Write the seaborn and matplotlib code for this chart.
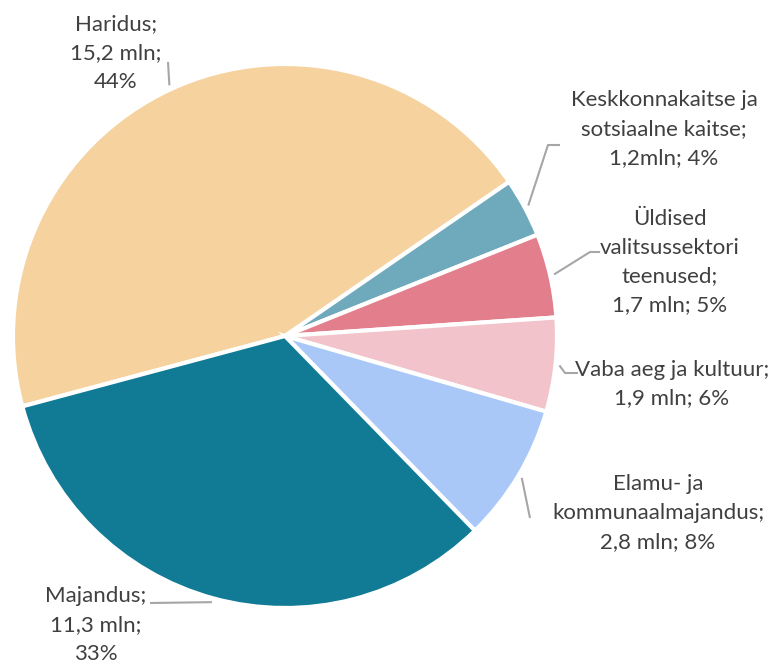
import numpy as np
import matplotlib.pyplot as plt
import seaborn as sns

# data
categories = ["Haridus", "Keskkonnakaitse ja\nsotsiaalne kaitse", "Üldised\nvalitsussektori\nteenused",
              "Vaba aeg ja kultuur", "Elamu- ja\nkommunaalmajandus", "Majandus"]
values = [15.2, 1.2, 1.7, 1.9, 2.8, 11.3]
value_labels = ["15,2 mln", "1,2mln", "1,7 mln", "1,9 mln", "2,8 mln", "11,3 mln"]
pct_labels = ["44%", "4%", "5%", "6%", "8%", "33%"]
colors = ["#F5D29E", "#6FA9BC", "#E37F8D", "#F2C3CA", "#A9C8F8", "#117B96"]

label_texts = [
    "Haridus;\n15,2 mln;\n44%",
    "Keskkonnakaitse ja\nsotsiaalne kaitse;\n1,2mln; 4%",
    "Üldised\nvalitsussektori\nteenused;\n1,7 mln; 5%",
    "Vaba aeg ja kultuur;\n1,9 mln; 6%",
    "Elamu- ja\nkommunaalmajandus;\n2,8 mln; 8%",
    "Majandus;\n11,3 mln;\n33%",
]

sns.set_theme(style="white")
plt.rcParams['font.family'] = ['Lato', 'DejaVu Sans']

W, H = 779, 665
fig = plt.figure(figsize=(W / 100, H / 100), dpi=100)
ax = fig.add_axes([0, 0, 1, 1])

def px(x, y):
    # convert pixel coords (top-left origin) to axes data coords
    return x, H - y

cx, cy = px(285, 336)
R = 272
start = 195

wedges, _ = ax.pie(values, colors=colors, startangle=start, counterclock=False,
                   center=(cx, cy), radius=R, frame=True,
                   wedgeprops=dict(edgecolor="white", linewidth=3))
ax.set_xlim(0, W)
ax.set_ylim(0, H)
ax.set_aspect('equal')
ax.axis('off')

# label layout: text centre, leader path (after the point on the pie edge)
text_pos = [(116, 53), (664, 129), (670, 262), (672, 384), (658, 513), (96, 625)]
leader_pts = [
    [(168, 62)],
    [(548, 145), (560, 145)],
    [(590, 252), (600, 252)],
    [(565, 373), (578, 373)],
    [(530, 518)],
    [(150, 603)],
]

for w, txt, tp, pts in zip(wedges, label_texts, text_pos, leader_pts):
    mid = np.deg2rad((w.theta1 + w.theta2) / 2)
    sx = cx + (R + 4) * np.cos(mid)
    sy = cy + (R + 4) * np.sin(mid)
    xs = [sx] + [px(*p)[0] for p in pts]
    ys = [sy] + [px(*p)[1] for p in pts]
    ax.plot(xs, ys, color="#A6A6A6", lw=1.5, solid_capstyle="butt")
    tx, ty = px(*tp)
    ax.text(tx, ty, txt, ha="center", va="center", fontsize=16,
            color="#404040", linespacing=1.55)

fig.savefig("out.png", dpi=100, facecolor="white")
